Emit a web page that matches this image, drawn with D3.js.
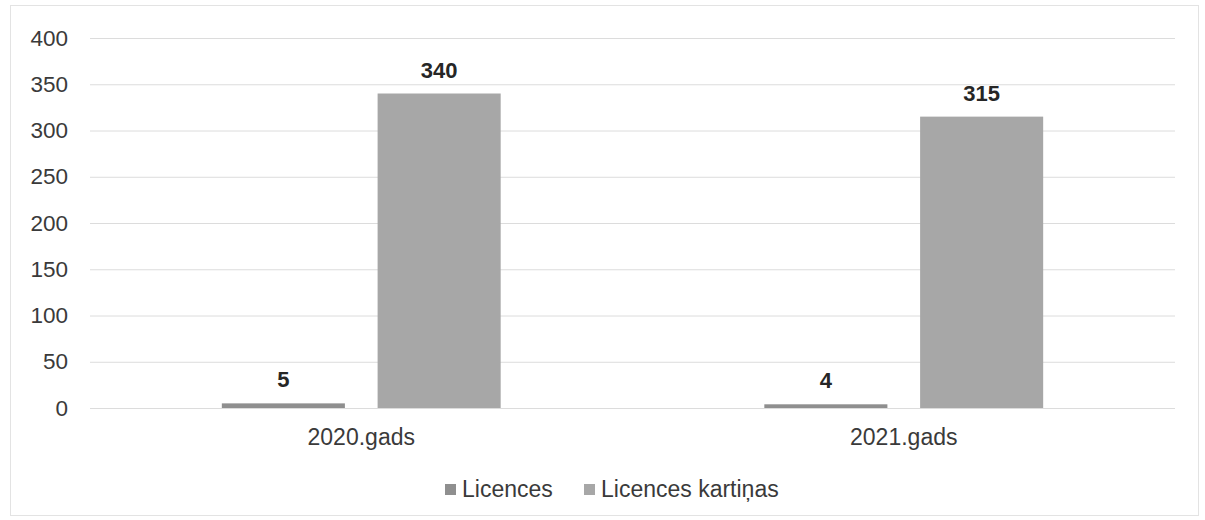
<!DOCTYPE html>
<html>
<head>
<meta charset="utf-8">
<script src="https://cdn.jsdelivr.net/npm/d3@7/dist/d3.min.js"></script>
<style>
  html, body { margin: 0; padding: 0; background: #fff; }
  svg { display: block; font-family: "Liberation Sans", Arial, sans-serif; }
</style>
</head>
<body>
<svg id="chart" width="1205" height="520"></svg>
<script>
// Chart data
const categories = ['2020.gads', '2021.gads'];
const seriesNames = ['Licences', 'Licences kartiņas'];
const licences = [5, 4];
const licencesKartinas = [340, 315];
const yTicks = [0, 50, 100, 150, 200, 250, 300, 350, 400];

const colors = ['#8f8f8f', '#a7a7a7'];
const textColor = '#3a3a3a';

const svg = d3.select('#chart');
const margin = { top: 38, left: 90, right: 30, bottom: 112 };
const width = 1205, height = 520;
const innerW = width - margin.left - margin.right;
const innerH = height - margin.top - margin.bottom;

// Outer frame of the chart area
svg.append('rect')
    .attr('x', 10.5).attr('y', 5.5)
    .attr('width', 1188).attr('height', 510)
    .attr('fill', 'none')
    .attr('stroke', '#e3e3e3');

const g = svg.append('g').attr('transform', `translate(${margin.left},${margin.top})`);

const x0 = d3.scaleBand()
    .domain(categories)
    .range([0, innerW])
    .paddingInner(0.486)
    .paddingOuter(0.243);

const x1 = d3.scaleBand()
    .domain(seriesNames)
    .range([0, x0.bandwidth()])
    .paddingInner(0.21);

const y = d3.scaleLinear().domain([0, 400]).range([innerH, 0]);

// Gridlines + y labels
const yAxis = d3.axisLeft(y).tickValues(yTicks).tickSize(-innerW).tickPadding(22);
const yG = g.append('g').call(yAxis);
yG.select('.domain').remove();
yG.selectAll('.tick line').attr('stroke', '#dcdcdc');
yG.selectAll('.tick text')
    .attr('fill', textColor)
    .attr('font-size', '22.5px')
    .attr('font-family', '"Liberation Sans", Arial, sans-serif');

// Category labels
const xAxis = d3.axisBottom(x0).tickSize(0).tickPadding(21);
const xG = g.append('g').attr('transform', `translate(0,${innerH})`).call(xAxis);
xG.select('.domain').remove();
xG.selectAll('.tick text')
    .attr('fill', textColor)
    .attr('font-size', '23px')
    .attr('font-family', '"Liberation Sans", Arial, sans-serif');

// Build rows for bars
const rows = categories.map((c, i) => ({
    category: c,
    values: [
        { key: seriesNames[0], value: licences[i], color: colors[0] },
        { key: seriesNames[1], value: licencesKartinas[i], color: colors[1] }
    ]
}));

const groups = g.selectAll('.group')
    .data(rows)
    .enter()
    .append('g')
    .attr('class', 'group')
    .attr('transform', d => `translate(${x0(d.category)},0)`);

groups.selectAll('rect')
    .data(d => d.values)
    .enter()
    .append('rect')
    .attr('x', d => x1(d.key))
    .attr('y', d => y(d.value))
    .attr('width', x1.bandwidth())
    .attr('height', d => innerH - y(d.value))
    .attr('fill', d => d.color);

// Value labels
groups.selectAll('text.val')
    .data(d => d.values)
    .enter()
    .append('text')
    .attr('class', 'val')
    .attr('x', d => x1(d.key) + x1.bandwidth() / 2)
    .attr('y', d => y(d.value) - 16)
    .attr('text-anchor', 'middle')
    .attr('font-size', '22px')
    .attr('font-weight', 'bold')
    .attr('fill', '#262626')
    .text(d => d.value);

// Legend
const legendItems = [
    { name: seriesNames[0], color: colors[0], x: 445 },
    { name: seriesNames[1], color: colors[1], x: 584 }
];
const legend = svg.append('g');
legend.selectAll('rect')
    .data(legendItems)
    .enter()
    .append('rect')
    .attr('x', d => d.x)
    .attr('y', 484)
    .attr('width', 11)
    .attr('height', 11)
    .attr('fill', d => d.color);
legend.selectAll('text')
    .data(legendItems)
    .enter()
    .append('text')
    .attr('x', d => d.x + 17)
    .attr('y', 497)
    .attr('font-size', '23px')
    .attr('fill', textColor)
    .text(d => d.name);
</script>
</body>
</html>
